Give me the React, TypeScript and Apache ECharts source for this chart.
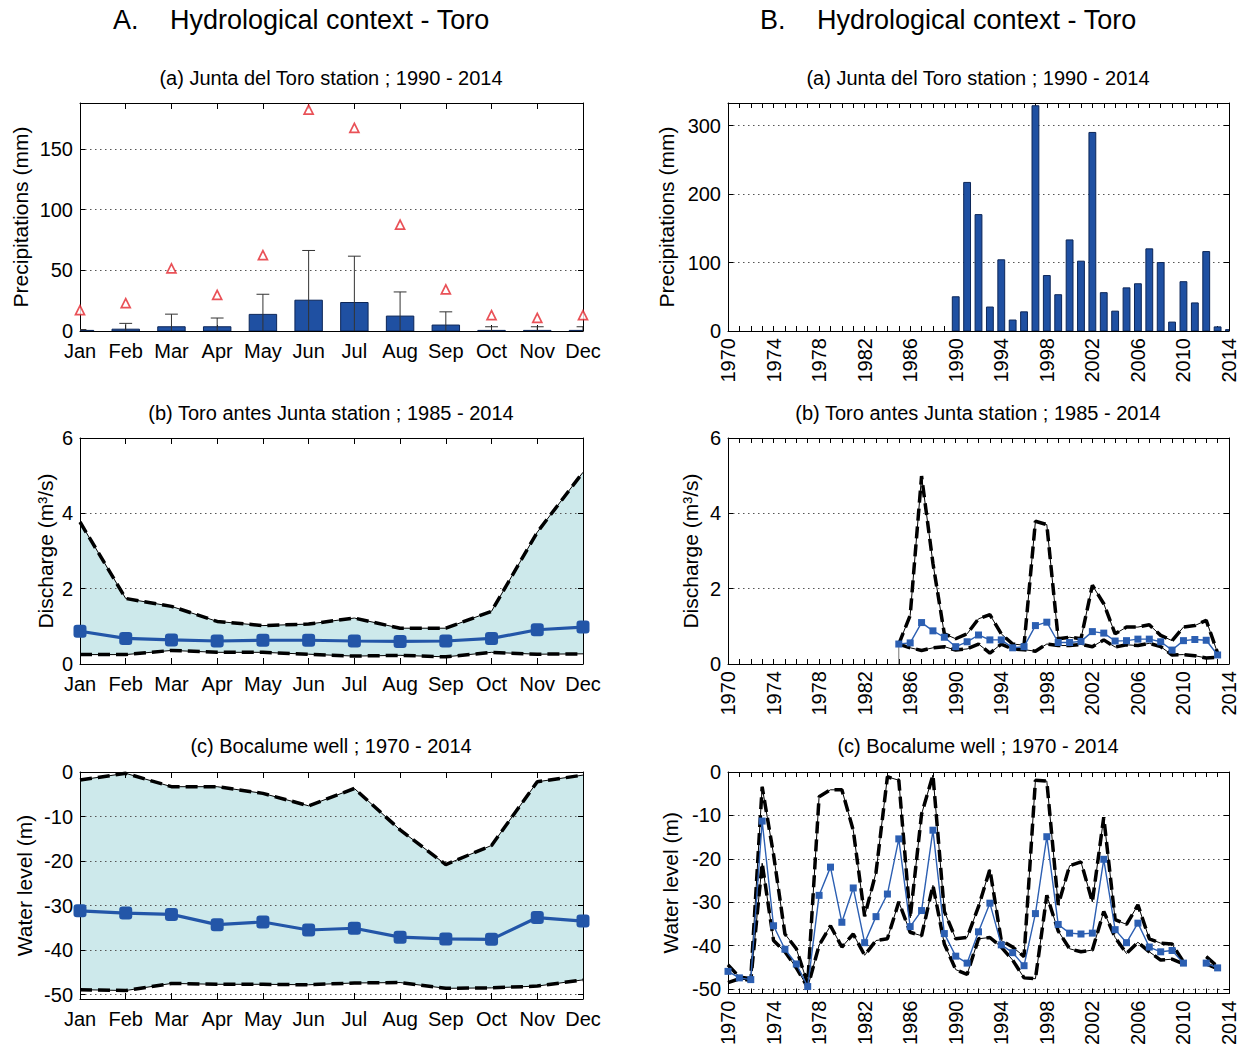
import React, { useEffect, useRef } from 'react';
import * as echarts from 'echarts';

// ---------- Data ----------
const months = ['Jan', 'Feb', 'Mar', 'Apr', 'May', 'Jun', 'Jul', 'Aug', 'Sep', 'Oct', 'Nov', 'Dec'];
const monthIdx = [1, 2, 3, 4, 5, 6, 7, 8, 9, 10, 11, 12];

// A(a) monthly precipitation (mm)
const precipMean = [0.5, 1.5, 3.5, 3.5, 13.7, 25.4, 23.5, 12.3, 4.9, 0.5, 0.5, 0.5];
const precipSdTop = [1.2, 6.3, 13.9, 10.7, 30.3, 66.4, 61.7, 32.2, 15.8, 3.5, 3.5, 3.5];
const precipMax = [17.2, 23, 51.6, 29.8, 62.6, 182.5, 167.5, 87.7, 34.4, 13.1, 10.9, 13.1];

// A(b) monthly discharge (m3/s)
const dischMean = [0.87, 0.68, 0.64, 0.61, 0.63, 0.63, 0.61, 0.6, 0.61, 0.68, 0.91, 0.98];
const dischMax = [3.77, 1.74, 1.53, 1.13, 1.02, 1.06, 1.22, 0.95, 0.95, 1.4, 3.5, 5.09];
const dischMin = [0.25, 0.25, 0.36, 0.31, 0.31, 0.26, 0.21, 0.23, 0.19, 0.31, 0.26, 0.27];

// A(c) monthly water level (m)
const wellMean = [-31.2, -31.7, -32.0, -34.3, -33.7, -35.5, -35.1, -37.1, -37.5, -37.6, -32.7, -33.5];
const wellMax = [-1.8, -0.3, -3.3, -3.3, -4.8, -7.6, -3.7, -13.0, -20.8, -16.5, -2.2, -0.7];
const wellMin = [-48.9, -49.1, -47.5, -47.7, -47.7, -47.8, -47.4, -47.3, -48.6, -48.5, -48.1, -46.7];

// B(a) annual precipitation (mm)
const precipYears = [1990, 1991, 1992, 1993, 1994, 1995, 1996, 1997, 1998, 1999, 2000, 2001, 2002, 2003, 2004, 2005, 2006, 2007, 2008, 2009, 2010, 2011, 2012, 2013, 2014];
const precipAnnual = [50, 217, 170, 35, 104, 16, 28, 329, 81, 53, 133, 102, 290, 56, 29, 63, 69, 120, 100, 13, 72, 41, 116, 6, 2];

// B(b) annual discharge (m3/s)
const dischYears = [1985, 1986, 1987, 1988, 1989, 1990, 1991, 1992, 1993, 1994, 1995, 1996, 1997, 1998, 1999, 2000, 2001, 2002, 2003, 2004, 2005, 2006, 2007, 2008, 2009, 2010, 2011, 2012, 2013];
const dischAnnMean = [0.53, 0.56, 1.1, 0.88, 0.71, 0.46, 0.59, 0.77, 0.64, 0.64, 0.43, 0.46, 1.02, 1.11, 0.57, 0.57, 0.6, 0.86, 0.82, 0.61, 0.62, 0.66, 0.66, 0.59, 0.37, 0.62, 0.65, 0.63, 0.24];
const dischAnnMax = [0.53, 1.29, 4.99, 2.67, 0.8, 0.67, 0.8, 1.2, 1.31, 0.8, 0.53, 0.5, 3.79, 3.7, 0.67, 0.71, 0.67, 2.09, 1.6, 0.8, 0.98, 0.98, 1.04, 0.76, 0.62, 0.98, 1.02, 1.16, 0.29];
const dischAnnMin = [0.53, 0.43, 0.36, 0.43, 0.46, 0.37, 0.4, 0.53, 0.29, 0.53, 0.4, 0.38, 0.34, 0.53, 0.49, 0.49, 0.52, 0.46, 0.64, 0.45, 0.51, 0.49, 0.55, 0.46, 0.24, 0.25, 0.22, 0.16, 0.18];
const dischStartStem = [0, 0.53];

// B(c) annual water level (m)
const wellYears = [1970, 1971, 1972, 1973, 1974, 1975, 1976, 1977, 1978, 1979, 1980, 1981, 1982, 1983, 1984, 1985, 1986, 1987, 1988, 1989, 1990, 1991, 1992, 1993, 1994, 1995, 1996, 1997, 1998, 1999, 2000, 2001, 2002, 2003, 2004, 2005, 2006, 2007, 2008, 2009, 2010, 2011, 2012, 2013];
const wellAnnMean = [-45.9, -47.4, -47.8, -11.3, -35.4, -40.8, -44.2, -49.4, -28.4, -21.9, -34.6, -26.7, -39.3, -33.3, -28.1, -15.4, -35.6, -31.9, -13.4, -37.2, -42.4, -44.0, -36.8, -30.2, -39.8, -41.6, -44.6, -32.6, -14.9, -35.1, -37.1, -37.3, -37.1, -20.1, -36.3, -39.3, -34.8, -40.3, -41.4, -41.1, -44.0, null, -44.0, -45.1];
const wellAnnMax = [-44.4, -47.2, -47.6, -3.4, -19.0, -37.3, -40.7, -48.8, -5.7, -4.1, -4.1, -13.4, -33.2, -23.1, -1.1, -1.9, -33.6, -9.7, -0.7, -32.1, -38.4, -38.1, -31.0, -22.4, -38.8, -40.3, -42.5, -1.9, -2.1, -30.6, -21.6, -20.7, -29.9, -10.4, -34.0, -35.1, -30.6, -38.4, -39.4, -39.6, -43.7, null, -42.5, -44.8];
const wellAnnMin = [-48.5, -47.6, -48.0, -21.0, -38.8, -41.4, -45.1, -49.6, -39.9, -35.4, -40.3, -37.3, -42.2, -38.8, -38.4, -29.9, -36.9, -37.7, -26.1, -39.6, -45.5, -46.6, -38.4, -38.1, -40.3, -43.3, -47.4, -47.6, -28.4, -36.6, -40.7, -41.4, -41.0, -32.1, -38.1, -41.8, -39.2, -41.4, -43.3, -43.1, -44.2, null, -44.2, -45.3];

// Tick labels
const yearLabels = [1970, 1974, 1978, 1982, 1986, 1990, 1994, 1998, 2002, 2006, 2010, 2014];
const precipMonthTicks = [0, 50, 100, 150];
const precipYearTicks = [0, 100, 200, 300];
const dischTicks = [0, 2, 4, 6];
const wellTicks = [-50, -40, -30, -20, -10, 0];

// ---------- Styling ----------
const FONT = "'Liberation Sans', Arial, Helvetica, sans-serif";
const BLUE = '#2356a8';
const BAR_BLUE = '#1f50a2';
const FILL = '#cde9eb';
const GRID_LINE = { show: true, lineStyle: { color: '#555', width: 1, type: [1.5, 3.5] as any } };

const grids = [
  { left: 80, top: 103, width: 503, height: 228 },
  { left: 80, top: 438, width: 503, height: 226 },
  { left: 80, top: 772, width: 503, height: 227 },
  { left: 728, top: 103, width: 501, height: 228 },
  { left: 728, top: 438, width: 501, height: 226 },
  { left: 728, top: 772, width: 501, height: 227 },
];

function xPair(g: number, kind: 'month' | 'year') {
  const range = kind === 'month' ? { min: 1, max: 12, interval: 1 } : { min: 1970, max: 2014, interval: 1 };
  const label =
    kind === 'month'
      ? { show: true, formatter: (v: number) => months[Math.round(v) - 1] ?? '', fontSize: 20, fontFamily: FONT, color: '#000', margin: 10 }
      : { show: true, customValues: yearLabels, formatter: (v: number) => String(v), rotate: 90, fontSize: 20, fontFamily: FONT, color: '#000', margin: 7 };
  const base: any = {
    type: 'value',
    gridIndex: g,
    ...range,
    z: 3,
    splitLine: { show: false },
    axisLine: { show: true, onZero: false, lineStyle: { color: '#000', width: 1 } },
    axisTick: { show: true, inside: true, length: kind === 'month' ? 6 : 5, lineStyle: { color: '#000', width: 1 } },
  };
  return [
    { ...base, position: 'bottom', axisLabel: label },
    { ...base, position: 'top', axisLabel: { show: false } },
  ];
}

function yPair(g: number, min: number, max: number, ticks: number[], name: string, nameGap: number) {
  const base: any = {
    type: 'value',
    gridIndex: g,
    min,
    max,
    z: 3,
    axisLine: { show: true, onZero: false, lineStyle: { color: '#000', width: 1 } },
    axisTick: { show: true, inside: true, length: 5, customValues: ticks, lineStyle: { color: '#000', width: 1 } },
  };
  return [
    {
      ...base,
      position: 'left',
      name,
      nameLocation: 'middle',
      nameGap,
      nameTextStyle: { fontSize: 21, fontFamily: FONT, color: '#000' },
      axisLabel: { show: true, customValues: ticks, formatter: (v: number) => String(v), fontSize: 20, fontFamily: FONT, color: '#000', margin: 7 },
      splitLine: GRID_LINE,
    },
    { ...base, position: 'right', axisLabel: { show: false }, splitLine: { show: false } },
  ];
}

function pairs(xs: number[], ys: (number | null)[]) {
  return xs.map((x, i) => [x, ys[i] === null ? '-' : ys[i]]);
}

function dashedLine(ax: number, xs: number[], ys: (number | null)[], width: number) {
  const data = pairs(xs, ys);
  return [
    { type: 'line', xAxisIndex: ax, yAxisIndex: ax, data, symbol: 'none', silent: true, z: 5, lineStyle: { color: '#000', width: 1 } },
    { type: 'line', xAxisIndex: ax, yAxisIndex: ax, data, symbol: 'none', silent: true, z: 6, lineStyle: { color: '#000', width, type: [12, 6] as any, cap: 'butt' } },
  ];
}

function bandPolygon(ax: number, xs: number[], upper: number[], lower: number[]) {
  return {
    type: 'custom',
    xAxisIndex: ax,
    yAxisIndex: ax,
    silent: true,
    z: 1,
    data: [[xs[0], upper[0]]],
    encode: { x: 0, y: 1 },
    renderItem: (_p: any, api: any) => {
      const top = xs.map((x, i) => api.coord([x, upper[i]]));
      const bot = xs.map((x, i) => api.coord([x, lower[i]])).reverse();
      return { type: 'polygon', shape: { points: top.concat(bot) }, style: { fill: FILL } };
    },
  };
}

function barSeries(ax: number, xs: number[], ys: number[], frac: number) {
  return {
    type: 'custom',
    xAxisIndex: ax,
    yAxisIndex: ax,
    clip: true,
    z: 5,
    data: pairs(xs, ys),
    encode: { x: 0, y: 1 },
    renderItem: (_p: any, api: any) => {
      const x = api.value(0);
      const y = api.value(1);
      const b = api.coord([x, 0]);
      const t = api.coord([x, y]);
      const w = api.size([frac, 0])[0];
      return {
        type: 'rect',
        shape: { x: b[0] - w / 2, y: t[1], width: w, height: b[1] - t[1] },
        style: { fill: BAR_BLUE, stroke: '#0c2658', lineWidth: 1 },
      };
    },
  };
}

function meanLine(ax: number, xs: number[], ys: (number | null)[], big: boolean) {
  return {
    type: 'line',
    xAxisIndex: ax,
    yAxisIndex: ax,
    data: pairs(xs, ys),
    z: 8,
    symbol: big ? 'roundRect' : 'rect',
    symbolSize: big ? 13 : 7,
    connectNulls: false,
    itemStyle: { color: big ? BLUE : '#2c5fb2' },
    lineStyle: { color: big ? BLUE : '#2c5fb2', width: big ? 3.2 : 1.4 },
  };
}

function buildOption(): any {
  const xAxis = [
    ...xPair(0, 'month'),
    ...xPair(1, 'month'),
    ...xPair(2, 'month'),
    ...xPair(3, 'year'),
    ...xPair(4, 'year'),
    ...xPair(5, 'year'),
  ];
  const yAxis = [
    ...yPair(0, 0, 188, precipMonthTicks, 'Precipitations (mm)', 49),
    ...yPair(1, 0, 6, dischTicks, 'Discharge (m³/s)', 24),
    ...yPair(2, -51, 0, wellTicks, 'Water level (m)', 45),
    ...yPair(3, 0, 333, precipYearTicks, 'Precipitations (mm)', 51),
    ...yPair(4, 0, 6, dischTicks, 'Discharge (m³/s)', 27),
    ...yPair(5, -51, 0, wellTicks, 'Water level (m)', 47),
  ];

  const A_A = 0, A_B = 2, A_C = 4, B_A = 6, B_B = 8, B_C = 10;

  const series: any[] = [
    // A(a)
    barSeries(A_A, monthIdx, precipMean, 0.6),
    {
      type: 'custom',
      xAxisIndex: A_A,
      yAxisIndex: A_A,
      clip: true,
      z: 6,
      data: pairs(monthIdx, precipSdTop),
      encode: { x: 0, y: 1 },
      renderItem: (_p: any, api: any) => {
        const x = api.value(0);
        const top = api.value(1);
        const b = api.coord([x, 0]);
        const t = api.coord([x, top]);
        const cap = api.size([0.28, 0])[0] / 2;
        return {
          type: 'group',
          children: [
            { type: 'line', shape: { x1: b[0], y1: b[1], x2: t[0], y2: t[1] }, style: { stroke: '#333', lineWidth: 1 } },
            { type: 'line', shape: { x1: t[0] - cap, y1: t[1], x2: t[0] + cap, y2: t[1] }, style: { stroke: '#333', lineWidth: 1 } },
          ],
        };
      },
    },
    {
      type: 'scatter',
      xAxisIndex: A_A,
      yAxisIndex: A_A,
      data: pairs(monthIdx, precipMax),
      symbol: 'triangle',
      symbolSize: 9,
      z: 7,
      itemStyle: { color: '#fff', borderColor: '#e3262d', borderWidth: 1.7 },
    },
    // A(b)
    bandPolygon(A_B, monthIdx, dischMax, dischMin),
    ...dashedLine(A_B, monthIdx, dischMax, 3.5),
    ...dashedLine(A_B, monthIdx, dischMin, 3.5),
    meanLine(A_B, monthIdx, dischMean, true),
    // A(c)
    bandPolygon(A_C, monthIdx, wellMax, wellMin),
    ...dashedLine(A_C, monthIdx, wellMax, 3.5),
    ...dashedLine(A_C, monthIdx, wellMin, 3.5),
    meanLine(A_C, monthIdx, wellMean, true),
    // B(a)
    barSeries(B_A, precipYears, precipAnnual, 0.6),
    // B(b)
    {
      type: 'line',
      xAxisIndex: B_B,
      yAxisIndex: B_B,
      data: dischStartStem.map((v) => [dischYears[0], v]),
      symbol: 'none',
      silent: true,
      z: 4,
      lineStyle: { color: '#777', width: 1 },
    },
    ...dashedLine(B_B, dischYears, dischAnnMax, 3.5),
    ...dashedLine(B_B, dischYears, dischAnnMin, 3.5),
    meanLine(B_B, dischYears, dischAnnMean, false),
    // B(c)
    ...dashedLine(B_C, wellYears, wellAnnMax, 3.5),
    ...dashedLine(B_C, wellYears, wellAnnMin, 3.5),
    meanLine(B_C, wellYears, wellAnnMean, false),
  ];

  const txt = (text: string, x: number, y: number, size: number, align: string) => ({
    type: 'text',
    x,
    y,
    silent: true,
    style: { text, fontSize: size, fontFamily: FONT, fill: '#000', align, verticalAlign: 'middle' },
  });

  const graphic = [
    txt('A.', 113, 20, 27, 'left'),
    txt('Hydrological context - Toro', 170, 20, 27, 'left'),
    txt('B.', 760, 20, 27, 'left'),
    txt('Hydrological context - Toro', 817, 20, 27, 'left'),
    txt('(a) Junta del Toro station ; 1990 - 2014', 331, 78, 20, 'center'),
    txt('(b) Toro antes Junta station ; 1985 - 2014', 331, 413, 20, 'center'),
    txt('(c) Bocalume well ; 1970 - 2014', 331, 746, 20, 'center'),
    txt('(a) Junta del Toro station ; 1990 - 2014', 978, 78, 20, 'center'),
    txt('(b) Toro antes Junta station ; 1985 - 2014', 978, 413, 20, 'center'),
    txt('(c) Bocalume well ; 1970 - 2014', 978, 746, 20, 'center'),
  ];

  return {
    animation: false,
    backgroundColor: '#fff',
    textStyle: { fontFamily: FONT },
    grid: grids.map((g) => ({ ...g, containLabel: false })),
    xAxis,
    yAxis,
    series,
    graphic,
  };
}

export default function App() {
  const ref = useRef<HTMLDivElement | null>(null);
  useEffect(() => {
    if (!ref.current) return;
    const chart = echarts.init(ref.current, undefined, { renderer: 'svg' });
    chart.setOption(buildOption());
    return () => chart.dispose();
  }, []);
  return (
    <div
      ref={ref}
      style={{ position: 'absolute', left: 0, top: 0, width: '1244px', height: '1048px', background: '#fff' }}
    />
  );
}
